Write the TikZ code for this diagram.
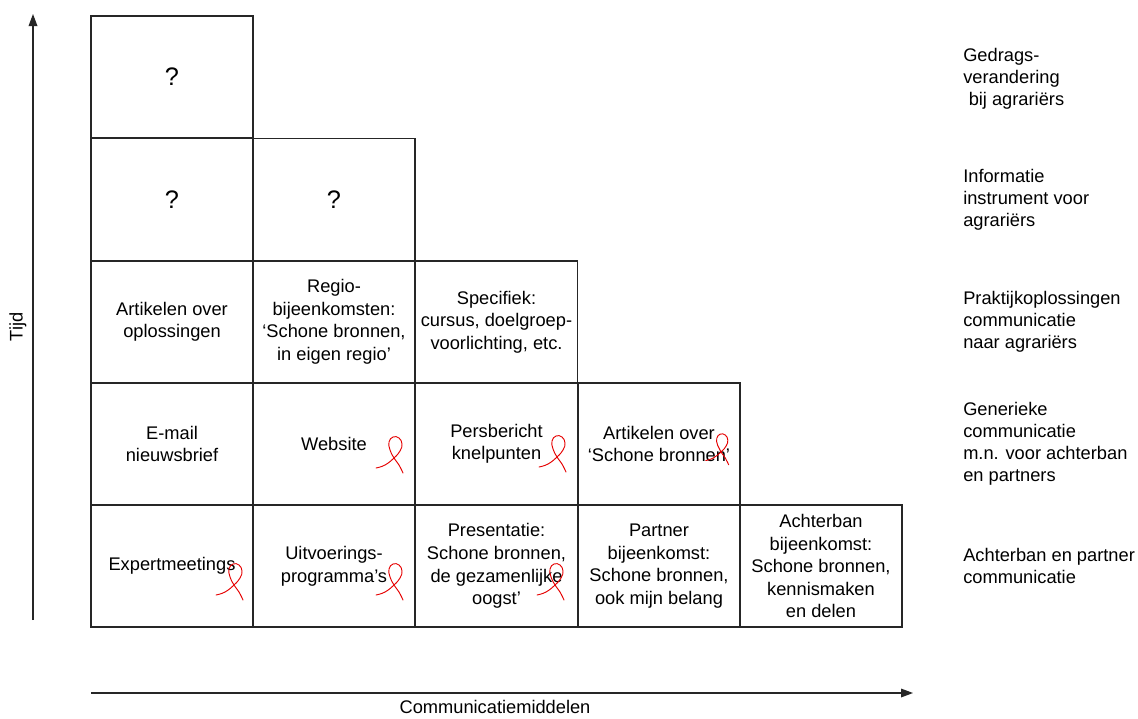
\documentclass[tikz,border=0pt]{standalone}
\usepackage{fontspec}
\setmainfont{Liberation Sans}
\usetikzlibrary{arrows.meta}
\begin{document}
\begin{tikzpicture}[x=0.75pt,y=-0.75pt,
  txt/.style={font=\fontsize{13.7}{16.9}\selectfont, align=center, inner sep=0pt},
  side/.style={font=\fontsize{13.7}{16.6}\selectfont, align=left, anchor=west, inner sep=0pt},
  cell/.style={txt, draw=black!85, line width=0.9pt, minimum width=121.5pt, minimum height=91.5pt},
  qcell/.style={cell, font=\fontsize{19}{21}\selectfont},
  axis/.style={draw=black!85, line width=0.9pt, -{Triangle[length=9pt,width=6.5pt]}},
  redpen/.style={draw=red!90!black, line width=0.7pt, line cap=round},
  pics/ribbon/.style={code={
    \draw[redpen] plot[smooth, tension=0.75] coordinates
      {(-18,10) (-9,7) (0,0) (6,-7) (8,-14) (5,-20) (-1,-21) (-5,-16) (-4,-8) (0,0) (5,7) (9,15)};
  }}]
\useasboundingbox (0,0) rectangle (1138,718);

% row 1
\node[qcell] (r1c1) at (172,77) {?};
% row 2
\node[qcell] (r2c1) at (172,199.5) {?};
\node[qcell] (r2c2) at (334,199.5) {?};
% row 3
\node[cell] (r3c1) at (172,322) {Artikelen over\\oplossingen};
\node[cell] (r3c2) at (334,322) {Regio-\\bijeenkomsten:\\‘Schone bronnen,\\in eigen regio’};
\node[cell] (r3c3) at (496.5,322) {Specifiek:\\cursus, doelgroep-\\voorlichting, etc.};
% row 4
\node[cell] (r4c1) at (172,444) {E-mail\\nieuwsbrief};
\node[cell] (r4c2) at (334,444) {Website};
\node[cell] (r4c3) at (496.5,444) {Persbericht\\knelpunten};
\node[cell] (r4c4) at (659,444) {Artikelen over\\‘Schone bronnen’};
% row 5
\node[cell] (r5c1) at (172,566) {Expertmeetings};
\node[cell] (r5c2) at (334,566) {Uitvoerings-\\programma’s};
\node[cell] (r5c3) at (496.5,566) {Presentatie:\\Schone bronnen,\\de gezamenlijke\\oogst’};
\node[cell] (r5c4) at (659,566) {Partner\\bijeenkomst:\\Schone bronnen,\\ook mijn belang};
\node[cell] (r5c5) at (821,566) {Achterban\\bijeenkomst:\\Schone bronnen,\\kennismaken\\en delen};

% handwritten red marks
\pic at (394,458) {ribbon};
\pic at (557,457) {ribbon};
\pic[scale=0.85] at (721,452) {ribbon};
\pic at (234,585) {ribbon};
\pic at (394,585) {ribbon};
\pic at (555,585) {ribbon};

% row descriptions
\node[side] (d1) at (963,79) {Gedrags-\\verandering\\\hspace{0.3em}bij agrariërs};
\node[side] (d2) at (963,199.5) {Informatie\\instrument voor\\agrariërs};
\node[side] (d3) at (963,322) {Praktijkoplossingen\\communicatie\\naar agrariërs};
\node[side] (d4) at (963,444) {Generieke\\communicatie\\m.n. voor achterban\\en partners};
\node[side] (d5) at (963,566) {Achterban en partner\\communicatie};

% axes
\coordinate (ybot) at (33,620);
\coordinate (ytop) at (33,14);
\draw[axis] (ybot) -- (ytop);
\node[txt, rotate=90] (tijd) at (18,327) {Tijd};

\coordinate (xl) at (91,693);
\coordinate (xr) at (913,693);
\draw[axis] (xl) -- (xr);
\node[txt] (cm) at (495,707) {Communicatiemiddelen};
\end{tikzpicture}
\end{document}
